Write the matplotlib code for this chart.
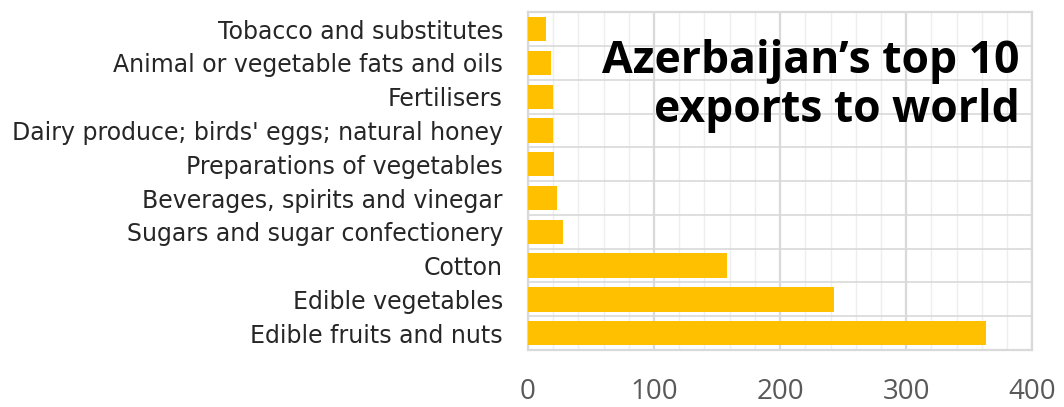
import matplotlib
matplotlib.use("Agg")
import matplotlib.pyplot as plt
from matplotlib.ticker import MultipleLocator

categories = [
    "Edible fruits and nuts",
    "Edible vegetables",
    "Cotton",
    "Sugars and sugar confectionery",
    "Beverages, spirits and vinegar",
    "Preparations of vegetables",
    "Dairy produce; birds' eggs; natural honey",
    "Fertilisers",
    "Animal or vegetable fats and oils",
    "Tobacco and substitutes",
]
values = [363, 243, 158, 28, 23, 20.5, 20, 19.5, 18, 14.5]

plt.rcParams["font.family"] = ["Open Sans", "DejaVu Sans"]

fig = plt.figure(figsize=(10.64, 4.07), dpi=100)
ax = fig.add_axes([0.4962, 0.14, 0.474, 0.83])

ax.barh(range(len(categories)), values, height=0.72, color="#FFC000", zorder=3)

ax.set_xlim(0, 400)
ax.set_ylim(-0.5, len(categories) - 0.5)
ax.xaxis.set_major_locator(MultipleLocator(100))
ax.xaxis.set_minor_locator(MultipleLocator(20))
ax.set_yticks(range(len(categories)))
ax.set_yticklabels(categories, fontsize=17, color="#262626", family="DejaVu Sans")
ax.set_yticks([i + 0.5 for i in range(len(categories) - 1)], minor=True)

ax.grid(which="major", axis="x", color="#D9D9D9", linewidth=1.6, zorder=0)
ax.grid(which="minor", axis="x", color="#EEEEEE", linewidth=1.0, zorder=0)
ax.grid(which="minor", axis="y", color="#D9D9D9", linewidth=1.2, zorder=0)

ax.tick_params(axis="x", which="both", length=0, labelsize=20, labelcolor="#595959", pad=20)
ax.tick_params(axis="y", which="both", length=0, pad=18)
for s in ax.spines.values():
    s.set_color("#D9D9D9")
    s.set_linewidth(1.6)

ax.text(0.975, 0.92, "Azerbaijan\u2019s top 10\nexports to world", transform=ax.transAxes,
        ha="right", va="top", fontsize=32, fontweight="bold", color="black",
        linespacing=1.1, zorder=4)

fig.savefig("out.png", dpi=100)
